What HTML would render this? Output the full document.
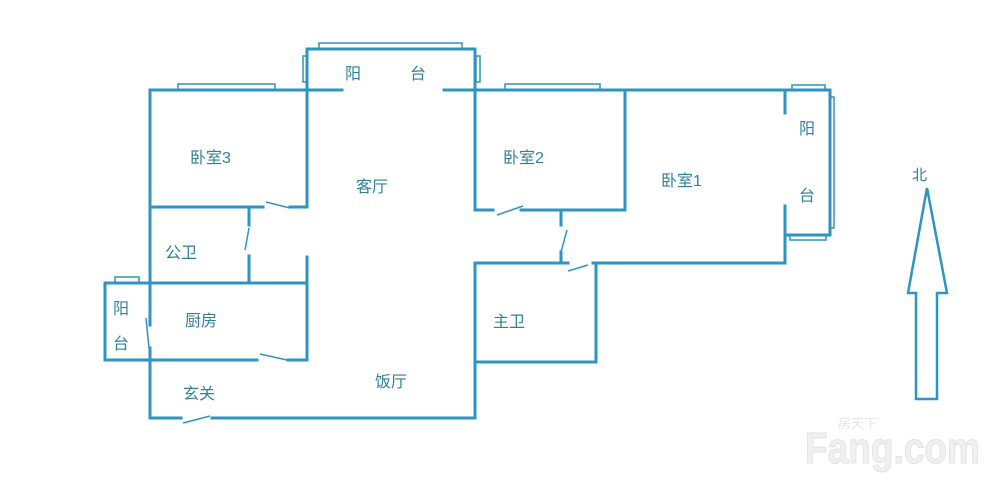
<!DOCTYPE html>
<html><head><meta charset="utf-8"><style>
html,body{margin:0;padding:0;background:#fff;width:1000px;height:483px;overflow:hidden}
text{font-family:"Liberation Sans","Noto Sans CJK SC",sans-serif;font-size:16px;fill:#2f7f9f}
</style></head><body>
<svg width="1000" height="483" viewBox="0 0 1000 483" xmlns="http://www.w3.org/2000/svg">
<g stroke="#2e94c2" stroke-width="3" fill="none" stroke-linecap="square">
<path d="M307,90 V49 H475 V90"/>
<path d="M150,90 H342 M444,90 H785"/>
<path d="M150,90 V325 M150,348 V418"/>
<path d="M307,90 V207"/>
<path d="M150,207 H263 M290,207 H307"/>
<path d="M249,207 V225 M249,256 V283"/>
<path d="M307,257 V283"/>
<path d="M150,283 H307"/>
<path d="M307,283 V360"/>
<path d="M150,360 H257 M288,360 H307"/>
<path d="M150,283 H105 V360 H150"/>
<path d="M150,418 H181 M212,418 H475"/>
<path d="M475,263 V418"/>
<path d="M475,90 V210"/>
<path d="M625,90 V210"/>
<path d="M475,210 H493 M521,210 H625"/>
<path d="M561,212 V225 M561,252 V263"/>
<path d="M475,263 H568 M593,263 H785"/>
<path d="M596,263 V362"/>
<path d="M475,362 H596"/>
<path d="M785,90 V113 M785,206 V263"/>
<path d="M785,90 H830 V235 H785"/>
</g>
<g stroke="#2e94c2" stroke-width="1.5" fill="none">
<path d="M266,202 L290,208"/>
<path d="M249,228 L245,250"/>
<path d="M146,318 L149,348"/>
<path d="M260,354 L287,360"/>
<path d="M183,423 L210,416"/>
<path d="M497,215 L523,206"/>
<path d="M567,230 L561,252"/>
<path d="M568,271 L588,265"/>
<rect x="319" y="43" width="143" height="6"/>
<rect x="303" y="56" width="4" height="26"/>
<rect x="476" y="56" width="4" height="26"/>
<rect x="178" y="84" width="97" height="6"/>
<rect x="505" y="84" width="95" height="6"/>
<rect x="792" y="85" width="33" height="5"/>
<rect x="790" y="235" width="36" height="5"/>
<rect x="830" y="97" width="4" height="131"/>
<rect x="115" y="277" width="24" height="6"/>
<path d="M927,188 L947,293 H937 V399 H916 V293 H908 Z" stroke-width="2.5"/>
</g>
<text x="345" y="79">阳</text>
<text x="410" y="79">台</text>
<text x="190" y="163">卧室3</text>
<text x="356" y="192">客厅</text>
<text x="503" y="163">卧室2</text>
<text x="661" y="186">卧室1</text>
<text x="799" y="134">阳</text>
<text x="799" y="201">台</text>
<text x="165" y="258">公卫</text>
<text x="185" y="326">厨房</text>
<text x="113" y="314">阳</text>
<text x="113" y="349">台</text>
<text x="493" y="327">主卫</text>
<text x="375" y="387">饭厅</text>
<text x="183" y="399">玄关</text>
<text x="912" y="180" style="font-size:15px">北</text>
<text x="805" y="463" textLength="175" lengthAdjust="spacingAndGlyphs" style="font-size:44px;font-weight:bold;fill:#f0f0f0;stroke:#e2e2e2;stroke-width:1">Fang.com</text>
<text x="838" y="428" style="font-size:13px;fill:#e6e6e6">房天下</text>
</svg>
</body></html>
